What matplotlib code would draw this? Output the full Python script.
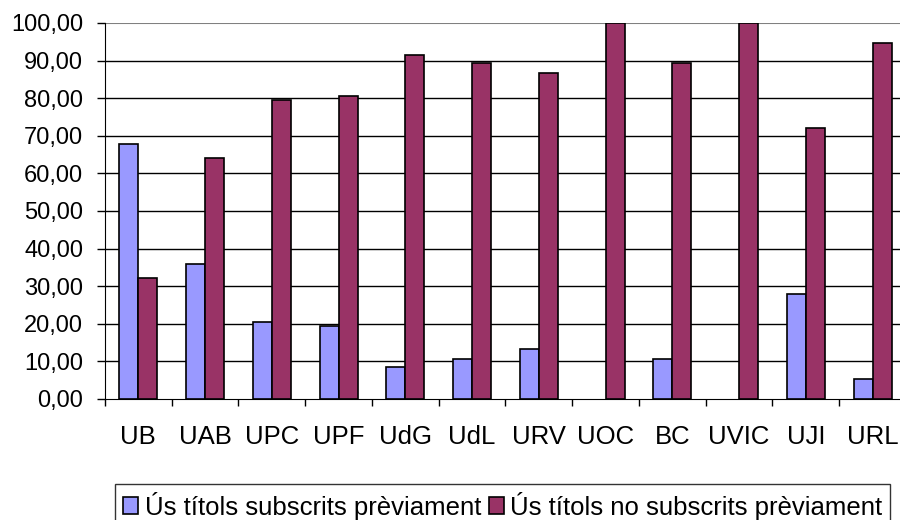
import numpy as np
import matplotlib; matplotlib.use("Agg")
import matplotlib.pyplot as plt
from matplotlib.ticker import FuncFormatter

plt.rcParams["font.family"] = ["Liberation Sans", "DejaVu Sans"]

unis = ["UB", "UAB", "UPC", "UPF", "UdG", "UdL", "URV", "UOC", "BC", "UVIC", "UJI", "URL"]
previ = [67.7, 36.0, 20.4, 19.3, 8.6, 10.7, 13.4, 0.0, 10.7, 0.0, 28.0, 5.3]
no_previ = [32.3, 64.0, 79.6, 80.7, 91.4, 89.3, 86.6, 100.0, 89.3, 100.0, 72.0, 94.7]
labels = ["Ús títols subscrits prèviament", "Ús títols no subscrits prèviament"]

fig = plt.figure(figsize=(9, 5.2), dpi=100)
ax = fig.add_axes([105/900, 1 - 399/520, 801/900, 376/520])

x = np.arange(len(unis))
w = 1 / 3.5
lw_a = [1.2 if v > 0 else 0 for v in previ]
ax.bar(x - w/2, previ, w, color="#9999FF", edgecolor="black", lw=lw_a, label=labels[0], zorder=3)
ax.bar(x + w/2, no_previ, w, color="#993366", edgecolor="black", lw=1.2, label=labels[1], zorder=3)

ax.set_xlim(-0.5, len(unis) - 0.5)
ax.set_ylim(0, 100)
ax.set_yticks(np.arange(0, 101, 10))
ax.yaxis.set_major_formatter(FuncFormatter(lambda v, p: f"{v:.2f}".replace(".", ",")))
for yv in range(10, 100, 10):
    ax.axhline(yv, color="black", lw=1, zorder=1)
ax.axhline(100, color="#808080", lw=1.5, zorder=1)

# category labels centred, tick marks on the boundaries
ax.set_xticks(x)
ax.set_xticklabels(unis)
ax.tick_params(axis="x", length=0, pad=19, labelsize=18.5)
ax.set_xticks(np.arange(-0.5, len(unis)), minor=True)
ax.tick_params(axis="x", which="minor", length=5, width=1, direction="out")
ax.tick_params(axis="y", length=5.8, width=1, pad=10, labelsize=17)

for s in ["top", "right"]:
    ax.spines[s].set_visible(False)
ax.spines["left"].set_color("black")
ax.spines["bottom"].set_color("black")

leg = fig.legend(loc="upper left", bbox_to_anchor=(115/900, 1 - 484/520), ncol=2,
                 fontsize=18.5, frameon=True, fancybox=False, edgecolor="black",
                 handlelength=0.6, handleheight=0.6, handletextpad=0.25, columnspacing=0.3,
                 borderpad=0.3, borderaxespad=0)
leg.get_frame().set_linewidth(1)

fig.savefig("out.png", dpi=100)
